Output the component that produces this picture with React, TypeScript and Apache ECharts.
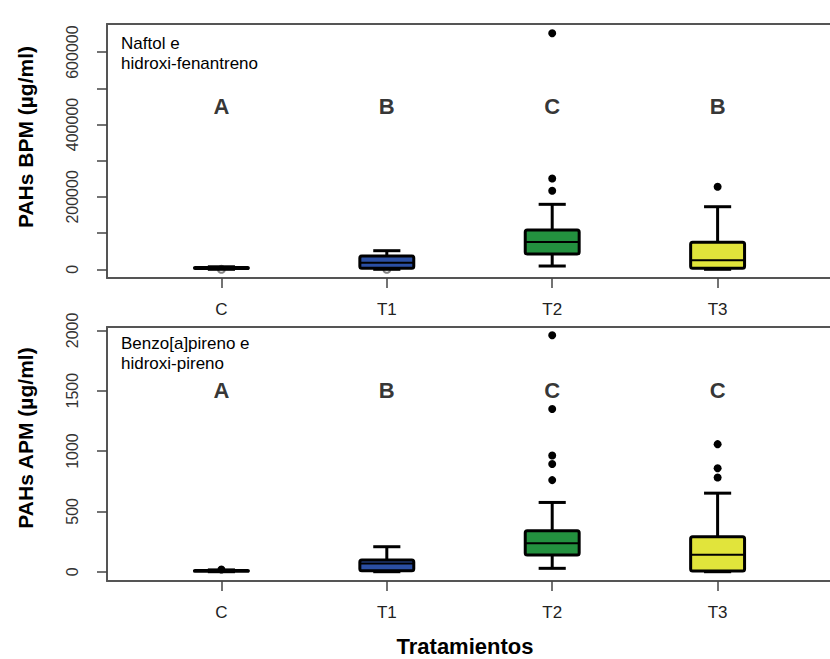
import React, { useEffect, useRef } from "react";
import * as echarts from "echarts";

// ---------- data ----------
const categories = ["C", "T1", "T2", "T3"];
const boxColors = ["#ffffff", "#2b4fa3", "#23913f", "#e1e43b"];

// [min, Q1, median, Q3, max] per treatment
const bpmBoxes = [
  [0, 2000, 3500, 5000, 7000],
  [0, 3000, 18200, 36700, 51400],
  [9100, 42300, 75400, 108500, 179500],
  [0, 2800, 24900, 74600, 172900],
];
const bpmOutliers = [[], [], [217000, 251000, 652000], [228000]];
const bpmHollow = [[0], [0], [], []];
const bpmLetters = ["A", "B", "C", "B"];
const bpmLetterY = 450000;
const bpmTicks = [0, 100000, 200000, 300000, 400000, 500000, 600000];
const bpmLabels = [0, 200000, 400000, 600000];

const apmBoxes = [
  [0, 3, 6, 10, 15],
  [0, 8, 69, 97, 207],
  [28, 138, 235, 339, 574],
  [0, 6, 141, 290, 651],
];
const apmOutliers = [[18], [], [759, 892, 963, 1349, 1959], [781, 858, 1057]];
const apmHollow = [[], [], [], []];
const apmLetters = ["A", "B", "C", "C"];
const apmLetterY = 1500;
const apmTicks = [0, 500, 1000, 1500, 2000];
const apmLabels = [0, 500, 1000, 1500, 2000];

// ---------- styling / layout ----------
const FONT = "'Liberation Sans', Arial, Helvetica, sans-serif";
const catIdx = categories.map((_, i) => i);
const X_MIN = -0.6917;
const X_MAX = 3.74;
const FRAME = { color: "#555", width: 2 };

const flatten = (groups: number[][]) =>
  groups.flatMap((vals, i) => vals.map((v) => [i, v]));

const renderBox = (params: any, api: any) => {
  const x = api.value(0);
  const mn = api.value(1);
  const q1 = api.value(2);
  const md = api.value(3);
  const q3 = api.value(4);
  const mx = api.value(5);
  const unit = api.size([1, 0])[0];
  const hw = unit * 0.163;
  const cw = unit * 0.082;
  const pMin = api.coord([x, mn]);
  const pQ1 = api.coord([x, q1]);
  const pMd = api.coord([x, md]);
  const pQ3 = api.coord([x, q3]);
  const pMax = api.coord([x, mx]);
  const cx = pMin[0];
  const ls = { stroke: "#000", lineWidth: 3, lineCap: "butt" };
  return {
    type: "group",
    children: [
      { type: "line", shape: { x1: cx, y1: pMax[1], x2: cx, y2: pQ3[1] }, style: ls },
      { type: "line", shape: { x1: cx, y1: pQ1[1], x2: cx, y2: pMin[1] }, style: ls },
      { type: "line", shape: { x1: cx - cw, y1: pMax[1], x2: cx + cw, y2: pMax[1] }, style: ls },
      { type: "line", shape: { x1: cx - cw, y1: pMin[1], x2: cx + cw, y2: pMin[1] }, style: ls },
      {
        type: "rect",
        shape: { x: cx - hw, y: pQ3[1], width: 2 * hw, height: Math.max(pQ1[1] - pQ3[1], 0.5), r: 2 },
        style: { fill: boxColors[params.dataIndex], stroke: "#000", lineWidth: 3, lineJoin: "round" },
      },
      { type: "line", shape: { x1: cx - hw, y1: pMd[1], x2: cx + hw, y2: pMd[1] }, style: { stroke: "#000", lineWidth: 2 } },
    ],
  };
};

function panelSeries(
  gi: number,
  boxes: number[][],
  outliers: number[][],
  hollow: number[][],
  letters: string[],
  letterY: number
) {
  return [
    {
      type: "scatter",
      xAxisIndex: gi * 2,
      yAxisIndex: gi,
      symbol: "emptyCircle",
      symbolSize: 7,
      itemStyle: { color: "#666", borderWidth: 1 },
      data: flatten(hollow),
      z: 1,
      silent: true,
    },
    {
      type: "custom",
      xAxisIndex: gi * 2,
      yAxisIndex: gi,
      renderItem: renderBox,
      encode: { x: 0, y: [1, 2, 3, 4, 5] },
      data: boxes.map((b, i) => [i, ...b]),
      z: 2,
      silent: true,
    },
    {
      type: "scatter",
      xAxisIndex: gi * 2,
      yAxisIndex: gi,
      symbol: "circle",
      symbolSize: 8,
      itemStyle: { color: "#000", opacity: 1 },
      data: flatten(outliers),
      clip: false,
      z: 3,
      silent: true,
    },
    {
      type: "scatter",
      xAxisIndex: gi * 2,
      yAxisIndex: gi,
      symbolSize: 0,
      data: letters.map((l, i) => ({ value: [i, letterY], name: l })),
      label: {
        show: true,
        position: "inside",
        formatter: "{b}",
        fontFamily: FONT,
        fontWeight: "bold",
        fontSize: 22,
        color: "#000",
        textBorderWidth: 0,
      },
      z: 4,
      silent: true,
    },
  ];
}

function xAxesFor(gi: number) {
  return [
    {
      type: "value",
      gridIndex: gi,
      position: "bottom",
      min: X_MIN,
      max: X_MAX,
      axisLine: { show: true, onZero: false, lineStyle: FRAME },
      splitLine: { show: false },
      axisTick: { show: true, customValues: catIdx, length: 10, lineStyle: { color: "#444", width: 1.5 } },
      axisLabel: {
        customValues: catIdx,
        formatter: (v: number) => categories[Math.round(v)] ?? "",
        margin: 23,
        fontSize: 17,
        color: "#222",
        fontFamily: FONT,
      },
    },
    {
      type: "value",
      gridIndex: gi,
      position: "top",
      min: X_MIN,
      max: X_MAX,
      axisLine: { show: true, onZero: false, lineStyle: FRAME },
      splitLine: { show: false },
      axisTick: { show: false },
      axisLabel: { show: false },
    },
  ];
}

function yAxisFor(gi: number, min: number, max: number, ticks: number[], labels: number[]) {
  return {
    type: "value",
    gridIndex: gi,
    min,
    max,
    axisLine: { show: true, onZero: false, lineStyle: FRAME },
    splitLine: { show: false },
    axisTick: { show: true, customValues: ticks, length: 10, lineStyle: { color: "#444", width: 1.5 } },
    axisLabel: {
      customValues: labels,
      formatter: (v: number) => String(v),
      rotate: 90,
      margin: 27,
      fontSize: 16,
      color: "#333",
      fontFamily: FONT,
    },
  };
}

export default function App() {
  const ref = useRef<HTMLDivElement>(null);
  useEffect(() => {
    if (!ref.current) return;
    const chart = echarts.init(ref.current, null, { renderer: "svg" });
    chart.setOption({
      animation: false,
      backgroundColor: "#ffffff",
      grid: [
        { left: 107, top: 24, width: 733, height: 254, outerBoundsMode: "none", containLabel: false },
        { left: 107, top: 327, width: 733, height: 254, outerBoundsMode: "none", containLabel: false },
      ],
      xAxis: [...xAxesFor(0), ...xAxesFor(1)],
      yAxis: [
        yAxisFor(0, -24000, 677600, bpmTicks, bpmLabels),
        yAxisFor(1, -77, 2028, apmTicks, apmLabels),
      ],
      series: [
        ...panelSeries(0, bpmBoxes, bpmOutliers, bpmHollow, bpmLetters, bpmLetterY),
        ...panelSeries(1, apmBoxes, apmOutliers, apmHollow, apmLetters, apmLetterY),
      ],
      graphic: [
        {
          type: "text",
          x: 25,
          y: 137,
          rotation: Math.PI / 2,
          style: {
            text: "PAHs BPM (µg/ml)",
            font: `bold 21px ${FONT}`,
            fill: "#000",
            align: "center",
            verticalAlign: "middle",
          },
        },
        {
          type: "text",
          x: 25,
          y: 438,
          rotation: Math.PI / 2,
          style: {
            text: "PAHs APM (µg/ml)",
            font: `bold 21px ${FONT}`,
            fill: "#000",
            align: "center",
            verticalAlign: "middle",
          },
        },
        {
          type: "text",
          x: 121,
          y: 33,
          style: {
            text: "Naftol e\nhidroxi-fenantreno",
            font: `17px ${FONT}`,
            lineHeight: 20,
            fill: "#000",
            align: "left",
            verticalAlign: "top",
          },
        },
        {
          type: "text",
          x: 121,
          y: 333,
          style: {
            text: "Benzo[a]pireno e\nhidroxi-pireno",
            font: `17px ${FONT}`,
            lineHeight: 20,
            fill: "#000",
            align: "left",
            verticalAlign: "top",
          },
        },
        {
          type: "text",
          x: 465,
          y: 646,
          style: {
            text: "Tratamientos",
            font: `bold 22px ${FONT}`,
            fill: "#000",
            align: "center",
            verticalAlign: "middle",
          },
        },
      ],
    });
    return () => chart.dispose();
  }, []);
  return (
    <div
      ref={ref}
      style={{ position: "absolute", left: 0, top: 0, width: 830, height: 659 }}
    />
  );
}
